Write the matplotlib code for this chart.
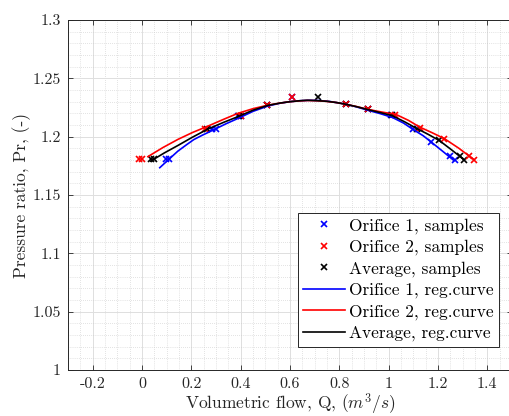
import matplotlib
matplotlib.use("Agg")
import matplotlib.pyplot as plt
from matplotlib.ticker import MultipleLocator

plt.rcParams['font.family'] = ['cmr10', 'DejaVu Serif']
plt.rcParams['mathtext.fontset'] = 'cm'
plt.rcParams['axes.unicode_minus'] = False

# Samples
q1 = [0.099, 0.108, 0.284, 0.300, 0.390, 0.400, 0.508, 0.609, 0.828, 0.916, 1.010, 1.100, 1.172, 1.250, 1.270]
p1 = [1.1806, 1.1806, 1.2063, 1.2063, 1.2177, 1.2177, 1.2271, 1.2340, 1.2277, 1.2234, 1.2183, 1.2063, 1.1954, 1.1834, 1.1800]
q2 = [-0.012, 0.000, 0.257, 0.400, 0.508, 0.609, 0.828, 0.916, 1.027, 1.127, 1.226, 1.324, 1.344]
p2 = [1.1806, 1.1806, 1.2063, 1.2177, 1.2271, 1.2340, 1.2277, 1.2234, 1.2186, 1.2077, 1.1977, 1.1834, 1.1800]
qa = [0.038, 0.049, 0.265, 0.395, 0.508, 0.713, 0.828, 0.916, 1.015, 1.114, 1.206, 1.290, 1.307]
pa = [1.1806, 1.1806, 1.2063, 1.2177, 1.2271, 1.2340, 1.2277, 1.2234, 1.2186, 1.2070, 1.1968, 1.1834, 1.1800]

# Regression curves
c1_q = [0.072, 0.110, 0.146, 0.180, 0.210, 0.245, 0.281, 0.340, 0.396, 0.450, 0.511, 0.560, 0.600, 0.640, 0.680,
        0.720, 0.760, 0.800, 0.828, 0.870, 0.916, 0.965, 1.017, 1.060, 1.098, 1.140, 1.179, 1.220, 1.265]
c1_p = [1.1734, 1.1808, 1.1877, 1.1930, 1.1975, 1.2013, 1.2049, 1.2110, 1.2163, 1.2217, 1.2263, 1.2287, 1.2300, 1.2308, 1.2312,
        1.2309, 1.2302, 1.2288, 1.2277, 1.2255, 1.2226, 1.2198, 1.2163, 1.2117, 1.2063, 1.2008, 1.1943, 1.1873, 1.1795]
c2_q = [0.024, 0.085, 0.146, 0.205, 0.268, 0.330, 0.389, 0.450, 0.510, 0.560, 0.600, 0.640, 0.670, 0.710, 0.750,
        0.790, 0.828, 0.870, 0.916, 0.970, 1.030, 1.080, 1.125, 1.175, 1.226, 1.285, 1.344]
c2_p = [1.1829, 1.1907, 1.1977, 1.2036, 1.2091, 1.2148, 1.2200, 1.2240, 1.2270, 1.2288, 1.2300, 1.2307, 1.2310, 1.2308, 1.2302,
        1.2292, 1.2277, 1.2258, 1.2234, 1.2212, 1.2190, 1.2140, 1.2083, 1.2035, 1.1983, 1.1900, 1.1806]
ca_q = [0.035, 0.090, 0.146, 0.205, 0.265, 0.330, 0.395, 0.450, 0.510, 0.560, 0.600, 0.640, 0.670, 0.710, 0.750,
        0.790, 0.828, 0.870, 0.916, 0.965, 1.015, 1.065, 1.114, 1.160, 1.206, 1.255, 1.307]
ca_p = [1.1790, 1.1860, 1.1925, 1.1996, 1.2063, 1.2122, 1.2177, 1.2227, 1.2268, 1.2288, 1.2300, 1.2308, 1.2312, 1.2309, 1.2303,
        1.2292, 1.2277, 1.2257, 1.2232, 1.2207, 1.2180, 1.2127, 1.2070, 1.2020, 1.1966, 1.1887, 1.1800]

xticks = [-0.2, 0, 0.2, 0.4, 0.6, 0.8, 1.0, 1.2, 1.4]
xticklabels = ['-0.2', '0', '0.2', '0.4', '0.6', '0.8', '1', '1.2', '1.4']
yticks = [1.0, 1.05, 1.1, 1.15, 1.2, 1.25, 1.3]
yticklabels = ['1', '1.05', '1.1', '1.15', '1.2', '1.25', '1.3']

W, H = 509, 416
fig = plt.figure(figsize=(W / 100, H / 100), dpi=100)
left, right, top, bottom = 68, 512, 20, 370
ax = fig.add_axes([left / W, 1 - bottom / H, (right - left) / W, (bottom - top) / H])

mk = dict(marker='x', linestyle='none', markersize=5, markeredgewidth=1.2)
ax.plot(q1, p1, color=(0, 0, 1), label='Orifice 1, samples', zorder=3, **mk)
ax.plot(q2, p2, color=(1, 0, 0), label='Orifice 2, samples', zorder=3.2, **mk)
ax.plot(qa, pa, color='black', label='Average, samples', zorder=3.1, **mk)
ax.plot(c1_q, c1_p, color=(0, 0, 1), lw=1.2, label='Orifice 1, reg.curve', zorder=3.3)
ax.plot(c2_q, c2_p, color=(1, 0, 0), lw=1.2, label='Orifice 2, reg.curve', zorder=3.4)
ax.plot(ca_q, ca_p, color='black', lw=1.2, label='Average, reg.curve', zorder=3.5)

ax.set_xlim(-0.3, 1.5)
ax.set_ylim(1.0, 1.3)
ax.set_xticks(xticks)
ax.set_xticklabels(xticklabels)
ax.set_yticks(yticks)
ax.set_yticklabels(yticklabels)
ax.xaxis.set_minor_locator(MultipleLocator(0.05))
ax.yaxis.set_minor_locator(MultipleLocator(0.01))

ax.grid(True, which='major', color='#dedede', lw=0.7, linestyle='-')
ax.grid(True, which='minor', color='#c8c8c8', lw=0.5, linestyle=(0, (1, 2)))
ax.set_axisbelow(True)

ax.tick_params(which='major', direction='in', length=3.5, width=0.6, top=True, right=True,
               labelsize=11.5, colors='#262626', pad=5)
ax.tick_params(which='minor', length=0)
for s in ax.spines.values():
    s.set_color('#262626')
    s.set_linewidth(0.7)

ax.set_xlabel(r'Volumetric flow, Q, $(m^3/s)$', fontsize=12.5, color='#262626', labelpad=0.5)
ax.set_ylabel(r'Pressure ratio, Pr, (-)', fontsize=12.5, color='#262626', labelpad=1)

leg = ax.legend(loc='lower right', bbox_to_anchor=(499.3 / W, 1 - 346.7 / H),
                bbox_transform=fig.transFigure, borderaxespad=0, fontsize=12.5,
                fancybox=False, framealpha=1, edgecolor='#262626', handlelength=2.4,
                handletextpad=0.25, labelspacing=0.33, borderpad=0.3)
leg.get_frame().set_linewidth(0.7)
leg.set_zorder(5)

fig.savefig('out.png', dpi=100)
